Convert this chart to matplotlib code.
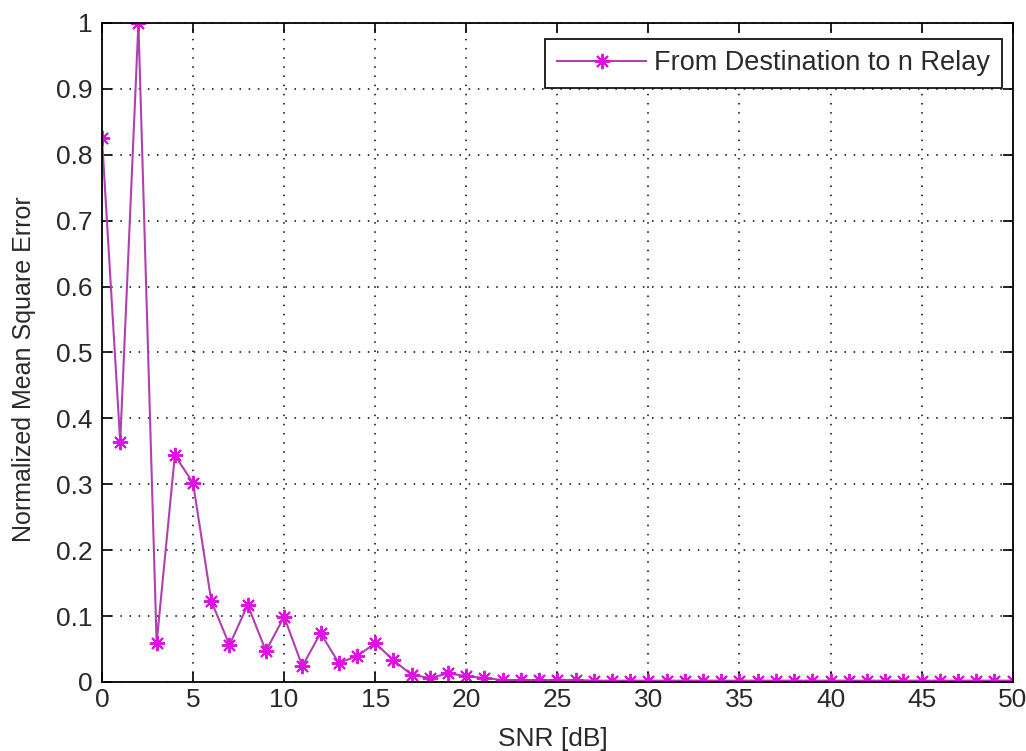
import matplotlib
matplotlib.use("Agg")
import matplotlib.pyplot as plt

plt.rcParams['font.family'] = ['Liberation Sans', 'DejaVu Sans']

snr_db = list(range(0, 51))
nmse = [0.825, 0.364, 1.0, 0.059, 0.344, 0.302, 0.123, 0.056, 0.117, 0.047,
        0.099, 0.024, 0.074, 0.029, 0.039, 0.059, 0.033, 0.011, 0.006, 0.013,
        0.009, 0.006, 0.003, 0.003, 0.003, 0.003, 0.003, 0.002, 0.002, 0.002,
        0.002, 0.002, 0.002, 0.002, 0.002, 0.002, 0.002, 0.002, 0.002, 0.002,
        0.002, 0.002, 0.002, 0.002, 0.002, 0.002, 0.002, 0.002, 0.002, 0.002,
        0.002]
series_label = "From Destination to n Relay"

x_ticks = list(range(0, 51, 5))
y_ticks = [0, 0.1, 0.2, 0.3, 0.4, 0.5, 0.6, 0.7, 0.8, 0.9, 1]
y_tick_labels = ["0", "0.1", "0.2", "0.3", "0.4", "0.5", "0.6", "0.7", "0.8", "0.9", "1"]

fig = plt.figure(figsize=(10.26, 7.51), dpi=100)
ax = fig.add_axes([0.0994, 0.0919, 0.8876, 0.8775])

ax.plot(snr_db, nmse, color='#b040b0', linewidth=1.5, marker=(8, 2, 0),
        markersize=11, markerfacecolor='#e010e0', markeredgecolor='#e010e0',
        markeredgewidth=1.4, label=series_label)

ax.set_xlim(0, 50)
ax.set_ylim(0, 1)
ax.set_xticks(x_ticks)
ax.set_yticks(y_ticks)
ax.set_yticklabels(y_tick_labels)
ax.tick_params(direction='in', top=True, right=True, length=7, width=1.2,
               labelsize=19, color='black', labelcolor='#2a2a2a')
ax.tick_params(axis='y', pad=7)
ax.tick_params(axis='x', pad=4)
ax.grid(True, linestyle=(0, (1, 5)), color='black', linewidth=1.1)
for sp in ax.spines.values():
    sp.set_linewidth(1.3)

ax.set_xlabel("SNR [dB]", fontsize=19, color='#2a2a2a')
ax.xaxis.set_label_coords(0.495, -0.0685)
ax.set_ylabel("Normalized Mean Square Error", fontsize=18, color='#2a2a2a')
ax.yaxis.set_label_coords(-0.073, 0.475)

leg = ax.legend(loc='upper right', fontsize=19.5, fancybox=False, framealpha=1,
                edgecolor='black', bbox_to_anchor=(0.988, 0.976),
                borderaxespad=0.0, handlelength=3.3, handletextpad=0.3,
                borderpad=0.42)
leg.get_frame().set_linewidth(1.2)
for t in leg.get_texts():
    t.set_color('#2a2a2a')

fig.savefig("out.png", dpi=100)
